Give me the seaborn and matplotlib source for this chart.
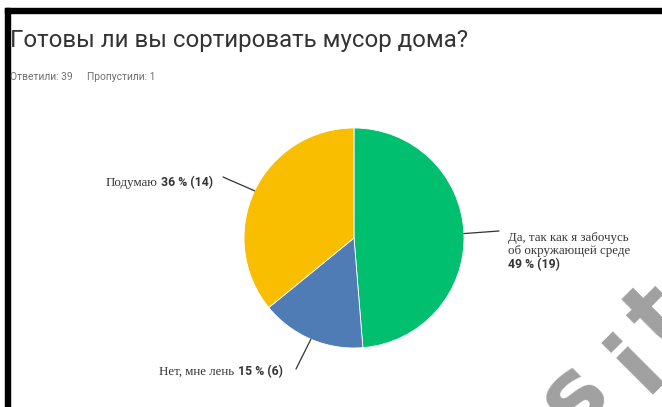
import numpy as np
import matplotlib
matplotlib.use("Agg")
import matplotlib.pyplot as plt
import seaborn as sns
from matplotlib.patches import Rectangle

# survey data
title = "Готовы ли вы сортировать мусор дома?"
answered = 39
skipped = 1
answers = ["Да, так как я забочусь\nоб окружающей среде", "Нет, мне лень", "Подумаю"]
counts = [19, 6, 14]
colors = ["#00BF6F", "#507CB6", "#F9BE00"]

sns.set_style("white")
plt.rcParams["font.family"] = ["Roboto", "DejaVu Sans"]

W, H = 662, 407
fig = plt.figure(figsize=(W / 100, H / 100), dpi=100)


def fx(x):
    return x / W


def fy(y):
    return 1 - y / H


# frame lines of the screenshot
fig.patches.append(Rectangle((fx(5), fy(13)), 1 - fx(5), 5 / H, transform=fig.transFigure,
                             color="black", zorder=0))
fig.patches.append(Rectangle((fx(5), 0), 5 / W, fy(8), transform=fig.transFigure,
                             color="black", zorder=0))

fig.text(fx(10), fy(47), title, ha="left", va="baseline", size=17.3, color="#333333")
fig.text(fx(10), fy(80), f"Ответили: {answered}", ha="left", va="baseline", size=7.4, color="#6f6f6f")
fig.text(fx(87), fy(80), f"Пропустили: {skipped}", ha="left", va="baseline", size=7.4, color="#6f6f6f")

# pie
ax = fig.add_axes([fx(244), fy(348), 220 / W, 220 / H])
wedges, _ = ax.pie(counts, colors=colors, startangle=90, counterclock=False, radius=1,
                   wedgeprops=dict(linewidth=0.6, edgecolor="white"))
ax.set_xlim(-1, 1)
ax.set_ylim(-1, 1)
ax.set_aspect("equal")
ax.axis("off")

total = sum(counts)
pcts = [round(100 * c / total) for c in counts]
serif = ["Liberation Serif", "DejaVu Serif"]
lab_size = 9.3
num_size = 8.8

# leader lines
line_ends = [(499, 231), (296, 369), (223, 177)]
for w, (ex, ey) in zip(wedges, line_ends):
    ang = np.deg2rad((w.theta1 + w.theta2) / 2)
    ax.annotate("", xy=(np.cos(ang), np.sin(ang)), xytext=(fx(ex), fy(ey)),
                textcoords="figure fraction",
                arrowprops=dict(arrowstyle="-", color="#333333", lw=0.9, shrinkA=0, shrinkB=0))

# green label
fig.text(fx(508), fy(238), answers[0].split("\n")[0], ha="left", va="center",
         family=serif, size=lab_size, color="#333333")
fig.text(fx(508), fy(251), answers[0].split("\n")[1], ha="left", va="center",
         family=serif, size=lab_size, color="#333333")
fig.text(fx(508), fy(265), f"{pcts[0]} % ({counts[0]})", ha="left", va="center",
         size=num_size, weight="bold", color="#333333")

# blue and yellow labels: numbers right-aligned, answer text just left of them
renderer = fig.canvas.get_renderer()
for i, (rx, cy) in [(1, (283, 372)), (2, (213, 183))]:
    num = fig.text(fx(rx), fy(cy), f"{pcts[i]} % ({counts[i]})", ha="right", va="center",
                   size=num_size, weight="bold", color="#333333")
    x0 = num.get_window_extent(renderer).x0
    fig.text((x0 - 4) / W, fy(cy), answers[i], ha="right", va="center",
             family=serif, size=lab_size, color="#333333")

# watermark fragment, one letter at a time
for ch, (ox, oy) in zip("sit", [(572, 434), (644, 394), (662, 352)]):
    fig.text(fx(ox), fy(oy), ch, rotation=45, rotation_mode="anchor", ha="left",
             va="baseline", size=68, weight="bold", family="DejaVu Sans", color="#a0a0a0")

fig.savefig("out.png", dpi=100)
